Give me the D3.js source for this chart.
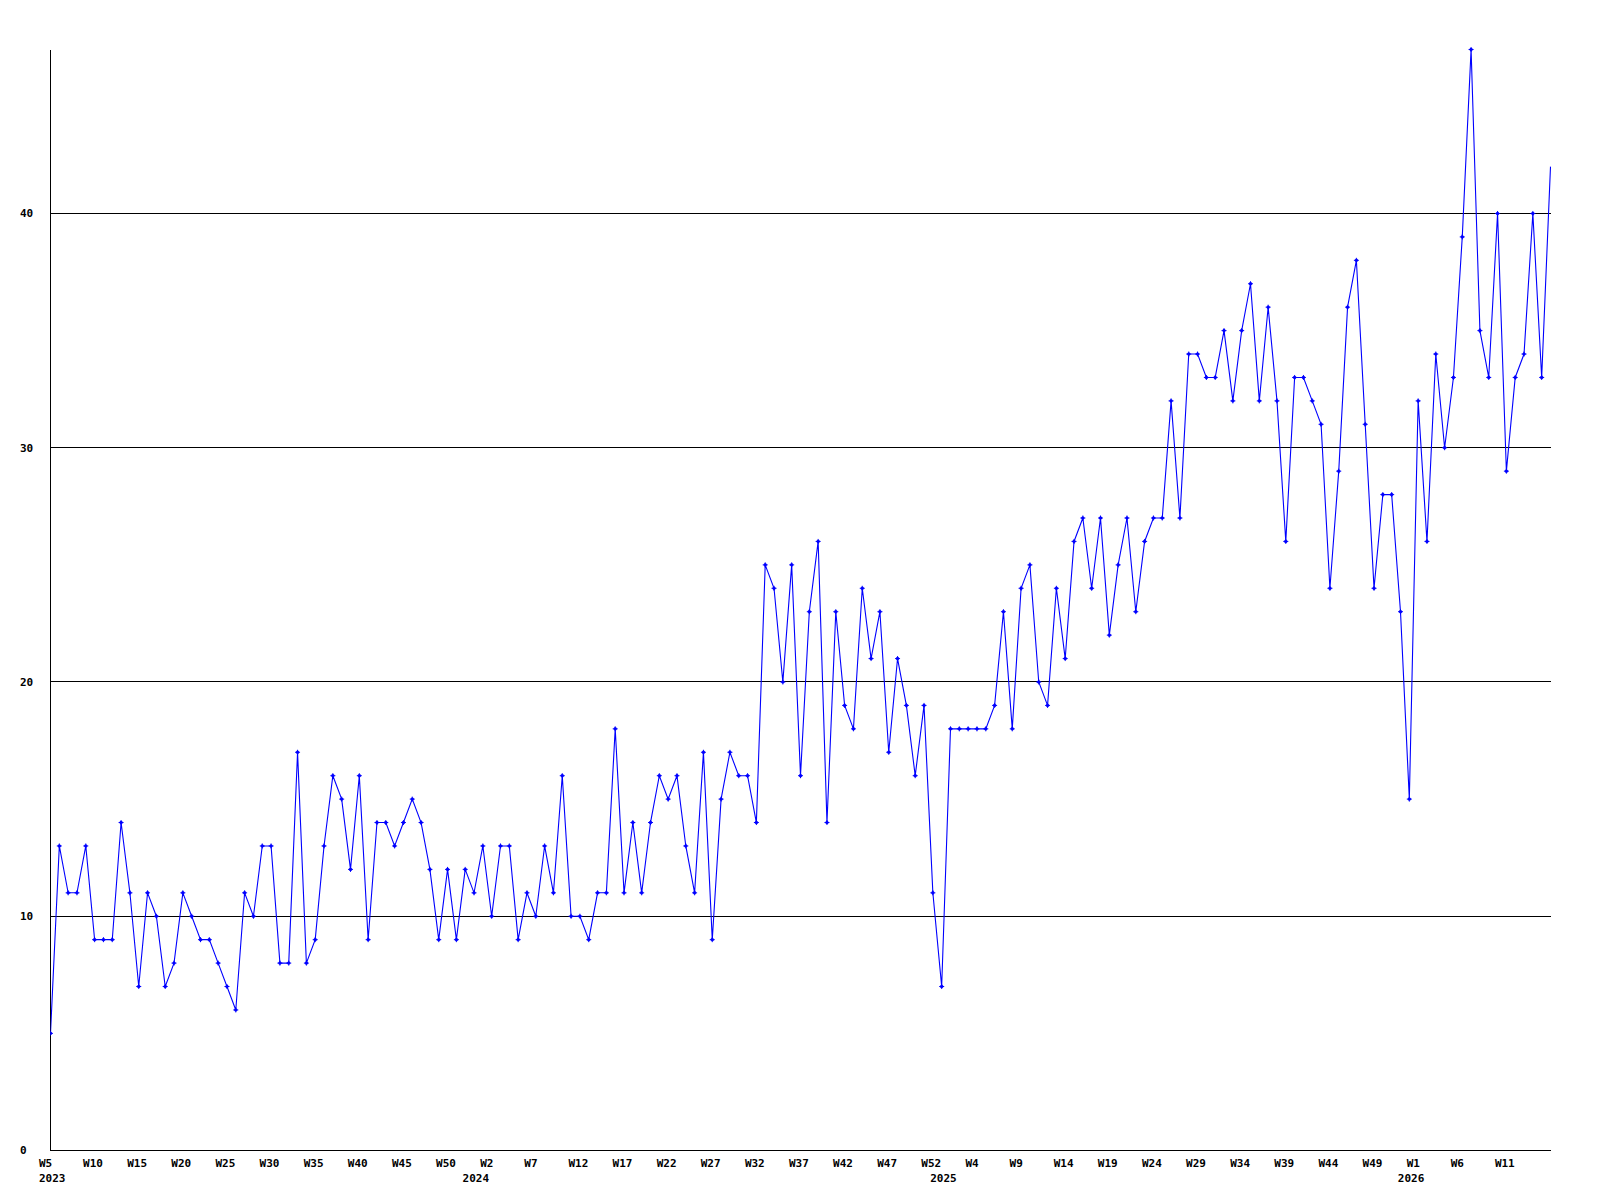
<!DOCTYPE html>
<html>
<head>
<meta charset="utf-8">
<script src="https://cdn.jsdelivr.net/npm/d3@7"></script>
<style>
  html, body { margin: 0; padding: 0; background: #fff; }
  svg { display: block; }
  text { font-family: 'DejaVu Sans Mono', monospace; font-weight: bold; font-size: 11px; fill: #000; }
</style>
</head>
<body>
<svg id="chart" width="1600" height="1200"></svg>
<script>
// weekly counts, one array per year (first week of 2023 is W5, later years start at W0)
const years = [2023, 2024, 2025, 2026]
const firstWeeks = [5, 0, 0, 0]

const values2023 = [5, 13, 11, 11, 13, 9, 9, 9, 14, 11, 7, 11, 10, 7, 8, 11, 10, 9, 9, 8, 7, 6, 11, 10,
  13, 13, 8, 8, 17, 8, 9, 13, 16, 15, 12, 16, 9, 14, 14, 13, 14, 15, 14, 12, 9, 12, 9, 12]
const values2024 = [11, 13, 10, 13, 13, 9, 11, 10, 13, 11, 16, 10, 10, 9, 11, 11, 18, 11, 14, 11, 14, 16,
  15, 16, 13, 11, 17, 9, 15, 17, 16, 16, 14, 25, 24, 20, 25, 16, 23, 26, 14, 23, 19, 18, 24, 21, 23, 17,
  21, 19, 16, 19, 11]
const values2025 = [7, 18, 18, 18, 18, 18, 19, 23, 18, 24, 25, 20, 19, 24, 21, 26, 27, 24, 27, 22, 25, 27,
  23, 26, 27, 27, 32, 27, 34, 34, 33, 33, 35, 32, 35, 37, 32, 36, 32, 26, 33, 33, 32, 31, 24, 29, 36, 38,
  31, 24, 28, 28, 23]
const values2026 = [15, 32, 26, 34, 30, 33, 39, 47, 35, 33, 40, 29, 33, 34, 40, 33, 42]

const yTicks = [0, 10, 20, 30, 40]

const margin = { top: 49.5, right: 49.5, bottom: 49.5, left: 50.5 }
const width = 1600
const height = 1200

// flatten the yearly arrays into one series of points
const data = []
;[values2023, values2024, values2025, values2026].forEach((vals, yi) => {
  vals.forEach((v, i) => {
    data.push({ year: years[yi], week: firstWeeks[yi] + i, value: v, first: i === 0 })
  })
})
data.forEach((d, i) => { d.index = i })

const x = d3.scalePoint()
  .domain(data.map(d => d.index))
  .range([margin.left, width - margin.right])

const y = d3.scaleLinear()
  .domain([0, d3.max(data, d => d.value)])
  .range([height - margin.bottom, margin.top])

const svg = d3.select('#chart')

svg.append('defs')
  .append('clipPath')
  .attr('id', 'plot-clip')
  .append('rect')
  .attr('x', margin.left)
  .attr('y', 0)
  .attr('width', width - margin.right - margin.left + 0.5)
  .attr('height', height)

// horizontal grid lines
svg.append('g')
  .selectAll('line')
  .data(yTicks.filter(t => t > 0))
  .enter()
  .append('line')
  .attr('x1', margin.left)
  .attr('x2', width - margin.right)
  .attr('y1', d => y(d))
  .attr('y2', d => y(d))
  .attr('stroke', '#000')
  .attr('stroke-width', 1)
  .attr('shape-rendering', 'crispEdges')

// axes
svg.append('line')
  .attr('x1', margin.left).attr('x2', margin.left)
  .attr('y1', y.range()[1]).attr('y2', y(0))
  .attr('stroke', '#000')
  .attr('shape-rendering', 'crispEdges')

svg.append('line')
  .attr('x1', margin.left).attr('x2', width - margin.right)
  .attr('y1', y(0)).attr('y2', y(0))
  .attr('stroke', '#000')
  .attr('shape-rendering', 'crispEdges')

// y labels
svg.append('g')
  .selectAll('text')
  .data(yTicks)
  .enter()
  .append('text')
  .attr('x', 20)
  .attr('y', d => y(d))
  .attr('dy', '0.36em')
  .text(d => d)

// week labels every 5th point (only where they fit), year label under the first week of each year
const labels = svg.append('g')
labels.selectAll('text.week')
  .data(data.filter(d => d.index % 5 === 0 && x(d.index) + 12 <= width - margin.right))
  .enter()
  .append('text')
  .attr('class', 'week')
  .attr('x', d => x(d.index) - 11.5)
  .attr('y', 1167)
  .text(d => 'W' + d.week)

labels.selectAll('text.year')
  .data(data.filter(d => d.first))
  .enter()
  .append('text')
  .attr('class', 'year')
  .attr('x', d => x(d.index) - 11.5)
  .attr('y', 1182)
  .text(d => d.year)

// the series
const plot = svg.append('g').attr('clip-path', 'url(#plot-clip)')

const line = d3.line()
  .x(d => x(d.index))
  .y(d => y(d.value))

plot.append('path')
  .datum(data)
  .attr('d', line)
  .attr('fill', 'none')
  .attr('stroke', '#0000ff')
  .attr('stroke-width', 1.1)

plot.append('g')
  .selectAll('path')
  .data(data.slice(0, -1))
  .enter()
  .append('path')
  .attr('transform', d => `translate(${x(d.index)},${y(d.value)})`)
  .attr('d', 'M-2.5,0H2.5M0,-2.5V2.5M-1,-1H1V1H-1Z')
  .attr('fill', '#0000ff')
  .attr('stroke', '#0000ff')
  .attr('stroke-width', 1)
</script>
</body>
</html>
